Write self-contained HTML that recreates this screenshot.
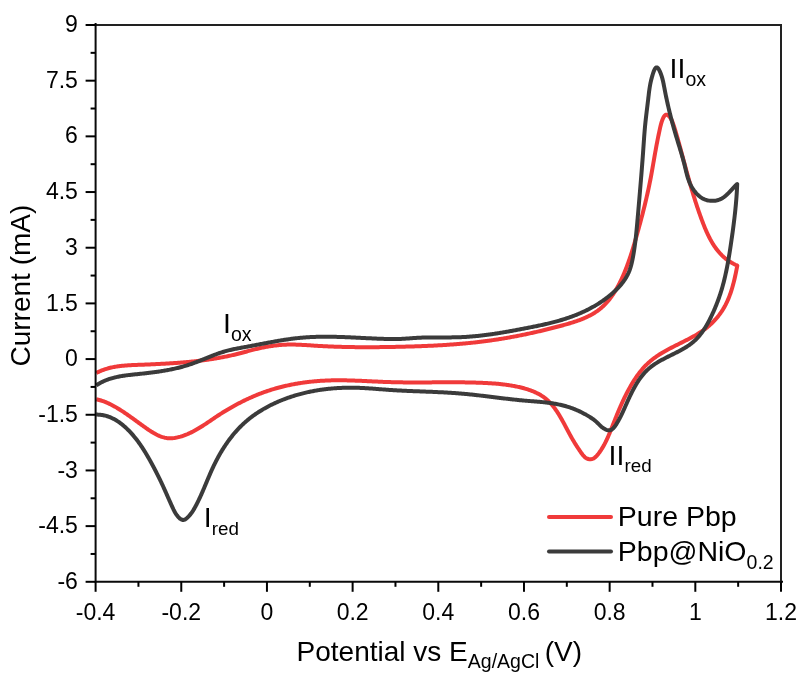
<!DOCTYPE html>
<html><head><meta charset="utf-8"><style>
html,body{margin:0;padding:0;background:#fff;}
svg{display:block;}
svg{will-change:transform;}
text{font-family:"Liberation Sans",sans-serif;fill:#000;}
</style></head><body>
<svg width="805" height="685" viewBox="0 0 805 685">
<rect x="0" y="0" width="805" height="685" fill="#fff"/>
<g fill="none" stroke-linejoin="round" stroke-linecap="butt" stroke-width="4.0">
<path d="M96.30,373.00 L97.20,372.53 L98.10,372.08 L99.01,371.65 L99.92,371.24 L100.84,370.84 L101.76,370.46 L102.69,370.10 L103.62,369.76 L104.55,369.43 L105.49,369.12 L106.44,368.83 L107.39,368.55 L108.34,368.28 L109.29,368.03 L110.25,367.79 L111.21,367.57 L112.18,367.36 L113.15,367.16 L114.12,366.97 L115.10,366.79 L116.07,366.62 L117.05,366.47 L118.04,366.32 L119.02,366.19 L120.01,366.06 L121.00,365.94 L121.99,365.84 L122.98,365.73 L123.98,365.64 L124.97,365.55 L125.97,365.47 L126.97,365.40 L127.97,365.33 L128.98,365.26 L129.98,365.21 L130.98,365.15 L131.99,365.10 L132.99,365.05 L134.00,365.01 L135.00,364.96 L136.01,364.92 L137.02,364.89 L138.02,364.85 L139.03,364.81 L140.04,364.77 L141.04,364.74 L142.05,364.70 L143.05,364.66 L144.05,364.63 L145.06,364.59 L146.06,364.55 L147.06,364.51 L148.07,364.47 L149.07,364.43 L150.07,364.39 L151.07,364.34 L152.07,364.30 L153.07,364.26 L154.07,364.21 L155.07,364.17 L156.07,364.12 L157.07,364.07 L158.07,364.02 L159.06,363.97 L160.06,363.92 L161.06,363.87 L162.06,363.82 L163.05,363.77 L164.05,363.71 L165.05,363.66 L166.04,363.60 L167.04,363.54 L168.03,363.48 L169.03,363.42 L170.02,363.36 L171.02,363.29 L172.01,363.23 L173.01,363.16 L174.00,363.10 L175.00,363.03 L175.99,362.95 L176.99,362.88 L177.98,362.81 L178.97,362.73 L179.97,362.65 L180.96,362.58 L181.95,362.49 L182.95,362.41 L183.94,362.33 L184.93,362.24 L185.92,362.15 L186.92,362.06 L187.91,361.97 L188.90,361.88 L189.90,361.78 L190.89,361.68 L191.88,361.58 L192.87,361.48 L193.87,361.37 L194.86,361.27 L195.85,361.16 L196.85,361.05 L197.84,360.93 L198.83,360.82 L199.82,360.70 L200.82,360.58 L201.81,360.45 L202.80,360.33 L203.79,360.20 L204.78,360.07 L205.78,359.94 L206.77,359.80 L207.76,359.66 L208.75,359.52 L209.74,359.37 L210.73,359.23 L211.72,359.08 L212.71,358.92 L213.69,358.77 L214.68,358.61 L215.67,358.44 L216.66,358.28 L217.64,358.11 L218.63,357.94 L219.61,357.76 L220.60,357.58 L221.58,357.40 L222.57,357.21 L223.55,357.03 L224.53,356.83 L225.51,356.64 L226.49,356.44 L227.47,356.23 L228.45,356.03 L229.42,355.82 L230.40,355.60 L231.38,355.38 L232.35,355.16 L233.32,354.94 L234.30,354.71 L235.27,354.47 L236.24,354.24 L237.21,353.99 L238.18,353.75 L239.14,353.50 L240.11,353.25 L241.08,353.00 L242.04,352.74 L243.01,352.48 L243.97,352.23 L244.93,351.97 L245.90,351.71 L246.86,351.45 L247.83,351.19 L248.79,350.93 L249.76,350.68 L250.72,350.42 L251.69,350.17 L252.66,349.92 L253.63,349.67 L254.59,349.43 L255.56,349.18 L256.54,348.95 L257.51,348.72 L258.48,348.49 L259.46,348.27 L260.43,348.05 L261.41,347.84 L262.39,347.63 L263.37,347.43 L264.35,347.24 L265.34,347.05 L266.32,346.86 L267.31,346.69 L268.29,346.52 L269.28,346.35 L270.27,346.20 L271.26,346.04 L272.25,345.90 L273.24,345.76 L274.23,345.63 L275.23,345.51 L276.22,345.39 L277.21,345.28 L278.21,345.18 L279.21,345.09 L280.20,345.00 L281.20,344.92 L282.20,344.85 L283.19,344.78 L284.19,344.73 L285.19,344.68 L286.19,344.64 L287.19,344.61 L288.19,344.59 L289.19,344.57 L290.19,344.56 L291.19,344.56 L292.19,344.56 L293.19,344.57 L294.19,344.59 L295.19,344.61 L296.19,344.64 L297.19,344.67 L298.19,344.71 L299.20,344.75 L300.20,344.79 L301.20,344.84 L302.20,344.89 L303.20,344.94 L304.20,345.00 L305.21,345.06 L306.21,345.12 L307.21,345.18 L308.21,345.24 L309.21,345.30 L310.21,345.37 L311.21,345.43 L312.22,345.50 L313.22,345.57 L314.22,345.63 L315.22,345.69 L316.22,345.76 L317.22,345.82 L318.22,345.88 L319.22,345.93 L320.22,345.99 L321.22,346.04 L322.22,346.10 L323.22,346.15 L324.21,346.20 L325.21,346.25 L326.21,346.30 L327.21,346.34 L328.21,346.39 L329.21,346.43 L330.20,346.47 L331.20,346.51 L332.20,346.55 L333.20,346.59 L334.19,346.63 L335.19,346.67 L336.19,346.70 L337.19,346.73 L338.18,346.76 L339.18,346.80 L340.18,346.82 L341.17,346.85 L342.17,346.88 L343.17,346.91 L344.16,346.93 L345.16,346.95 L346.15,346.98 L347.15,347.00 L348.15,347.02 L349.14,347.04 L350.14,347.05 L351.14,347.07 L352.13,347.09 L353.13,347.10 L354.12,347.11 L355.12,347.13 L356.12,347.14 L357.11,347.15 L358.11,347.16 L359.10,347.16 L360.10,347.17 L361.10,347.18 L362.09,347.18 L363.09,347.19 L364.08,347.19 L365.08,347.19 L366.08,347.19 L367.07,347.19 L368.07,347.19 L369.06,347.19 L370.06,347.19 L371.06,347.19 L372.05,347.18 L373.05,347.18 L374.05,347.17 L375.04,347.17 L376.04,347.16 L377.04,347.15 L378.04,347.14 L379.03,347.13 L380.03,347.12 L381.03,347.11 L382.02,347.10 L383.02,347.09 L384.02,347.07 L385.02,347.06 L386.02,347.05 L387.01,347.03 L388.01,347.01 L389.01,347.00 L390.01,346.98 L391.01,346.96 L392.01,346.94 L393.01,346.92 L394.01,346.90 L395.01,346.88 L396.01,346.86 L397.01,346.84 L398.01,346.82 L399.01,346.80 L400.01,346.77 L401.01,346.75 L402.01,346.73 L403.01,346.70 L404.01,346.68 L405.02,346.65 L406.02,346.62 L407.02,346.60 L408.02,346.57 L409.02,346.54 L410.03,346.51 L411.03,346.48 L412.03,346.45 L413.04,346.42 L414.04,346.39 L415.04,346.36 L416.05,346.32 L417.05,346.29 L418.05,346.25 L419.06,346.22 L420.06,346.18 L421.06,346.15 L422.07,346.11 L423.07,346.07 L424.07,346.03 L425.08,345.99 L426.08,345.95 L427.09,345.90 L428.09,345.86 L429.09,345.81 L430.10,345.77 L431.10,345.72 L432.10,345.67 L433.11,345.63 L434.11,345.58 L435.11,345.53 L436.12,345.47 L437.12,345.42 L438.12,345.37 L439.12,345.31 L440.13,345.25 L441.13,345.20 L442.13,345.14 L443.13,345.08 L444.13,345.02 L445.13,344.95 L446.14,344.89 L447.14,344.82 L448.14,344.76 L449.14,344.69 L450.14,344.62 L451.14,344.55 L452.14,344.48 L453.14,344.40 L454.14,344.33 L455.13,344.25 L456.13,344.18 L457.13,344.10 L458.13,344.02 L459.13,343.93 L460.12,343.85 L461.12,343.77 L462.12,343.68 L463.11,343.59 L464.11,343.50 L465.10,343.41 L466.10,343.32 L467.09,343.22 L468.08,343.13 L469.08,343.03 L470.07,342.93 L471.06,342.83 L472.05,342.72 L473.05,342.62 L474.04,342.51 L475.03,342.40 L476.02,342.29 L477.01,342.18 L477.99,342.07 L478.98,341.95 L479.97,341.84 L480.96,341.72 L481.94,341.59 L482.93,341.47 L483.91,341.35 L484.90,341.22 L485.88,341.09 L486.87,340.96 L487.85,340.83 L488.83,340.69 L489.81,340.56 L490.80,340.42 L491.78,340.28 L492.76,340.13 L493.74,339.99 L494.72,339.85 L495.70,339.70 L496.68,339.55 L497.65,339.40 L498.63,339.24 L499.61,339.09 L500.59,338.93 L501.56,338.77 L502.54,338.61 L503.52,338.45 L504.49,338.28 L505.47,338.12 L506.45,337.95 L507.42,337.78 L508.40,337.61 L509.37,337.44 L510.35,337.26 L511.32,337.08 L512.30,336.90 L513.27,336.72 L514.24,336.54 L515.22,336.36 L516.19,336.17 L517.17,335.98 L518.14,335.79 L519.11,335.60 L520.09,335.41 L521.06,335.21 L522.04,335.02 L523.01,334.82 L523.98,334.62 L524.96,334.42 L525.93,334.21 L526.90,334.01 L527.88,333.80 L528.85,333.59 L529.83,333.38 L530.80,333.17 L531.78,332.95 L532.75,332.74 L533.72,332.52 L534.70,332.30 L535.67,332.08 L536.65,331.86 L537.62,331.63 L538.60,331.41 L539.58,331.18 L540.55,330.95 L541.53,330.72 L542.51,330.49 L543.48,330.25 L544.46,330.01 L545.44,329.78 L546.42,329.54 L547.39,329.30 L548.37,329.05 L549.35,328.81 L550.33,328.56 L551.31,328.31 L552.29,328.06 L553.27,327.81 L554.25,327.56 L555.24,327.30 L556.22,327.05 L557.20,326.79 L558.18,326.53 L559.17,326.27 L560.15,326.01 L561.14,325.74 L562.12,325.48 L563.11,325.21 L564.09,324.94 L565.08,324.66 L566.06,324.39 L567.04,324.10 L568.02,323.82 L569.00,323.53 L569.98,323.24 L570.96,322.94 L571.93,322.64 L572.90,322.33 L573.87,322.02 L574.83,321.70 L575.79,321.38 L576.75,321.05 L577.70,320.71 L578.65,320.37 L579.60,320.02 L580.54,319.66 L581.47,319.29 L582.40,318.92 L583.32,318.54 L584.24,318.15 L585.15,317.75 L586.06,317.34 L586.96,316.92 L587.85,316.50 L588.74,316.06 L589.61,315.61 L590.48,315.15 L591.35,314.68 L592.20,314.21 L593.05,313.71 L593.88,313.21 L594.71,312.70 L595.53,312.17 L596.34,311.63 L597.14,311.08 L597.93,310.51 L598.71,309.93 L599.48,309.34 L600.24,308.74 L600.98,308.12 L601.72,307.48 L602.44,306.83 L603.16,306.17 L603.86,305.50 L604.56,304.81 L605.24,304.11 L605.91,303.40 L606.58,302.68 L607.23,301.95 L607.88,301.20 L608.51,300.45 L609.13,299.68 L609.75,298.91 L610.36,298.12 L610.95,297.32 L611.54,296.52 L612.12,295.71 L612.69,294.89 L613.25,294.06 L613.80,293.22 L614.35,292.37 L614.88,291.52 L615.41,290.66 L615.93,289.79 L616.44,288.92 L616.95,288.04 L617.44,287.15 L617.93,286.26 L618.42,285.37 L618.89,284.47 L619.36,283.56 L619.82,282.66 L620.27,281.74 L620.72,280.83 L621.16,279.91 L621.59,278.98 L622.02,278.06 L622.44,277.13 L622.85,276.20 L623.26,275.27 L623.67,274.34 L624.06,273.40 L624.45,272.47 L624.84,271.53 L625.22,270.60 L625.59,269.66 L625.96,268.73 L626.33,267.79 L626.69,266.85 L627.04,265.92 L627.40,264.98 L627.74,264.04 L628.08,263.10 L628.42,262.16 L628.75,261.22 L629.08,260.28 L629.41,259.34 L629.73,258.40 L630.05,257.46 L630.36,256.52 L630.67,255.57 L630.98,254.63 L631.29,253.69 L631.59,252.74 L631.89,251.80 L632.19,250.85 L632.48,249.91 L632.77,248.96 L633.06,248.01 L633.35,247.06 L633.63,246.11 L633.91,245.17 L634.19,244.22 L634.47,243.27 L634.75,242.31 L635.03,241.36 L635.30,240.41 L635.58,239.46 L635.85,238.50 L636.12,237.55 L636.39,236.59 L636.66,235.64 L636.93,234.68 L637.20,233.72 L637.47,232.77 L637.74,231.81 L638.00,230.85 L638.27,229.89 L638.53,228.93 L638.80,227.97 L639.06,227.00 L639.33,226.04 L639.59,225.08 L639.85,224.12 L640.11,223.15 L640.37,222.19 L640.63,221.22 L640.89,220.25 L641.14,219.29 L641.40,218.32 L641.65,217.35 L641.91,216.38 L642.16,215.41 L642.41,214.44 L642.66,213.47 L642.91,212.50 L643.15,211.53 L643.40,210.56 L643.65,209.59 L643.89,208.62 L644.13,207.64 L644.37,206.67 L644.61,205.70 L644.85,204.72 L645.09,203.75 L645.32,202.77 L645.55,201.79 L645.79,200.82 L646.02,199.84 L646.25,198.86 L646.47,197.89 L646.70,196.91 L646.92,195.93 L647.14,194.95 L647.36,193.97 L647.58,192.99 L647.80,192.01 L648.02,191.03 L648.23,190.05 L648.44,189.07 L648.65,188.09 L648.86,187.11 L649.06,186.13 L649.27,185.15 L649.47,184.16 L649.67,183.18 L649.87,182.20 L650.06,181.21 L650.26,180.23 L650.45,179.25 L650.64,178.26 L650.82,177.28 L651.01,176.29 L651.19,175.31 L651.37,174.32 L651.55,173.34 L651.73,172.36 L651.91,171.37 L652.09,170.39 L652.26,169.40 L652.44,168.42 L652.61,167.43 L652.78,166.45 L652.95,165.47 L653.12,164.48 L653.29,163.50 L653.46,162.52 L653.63,161.54 L653.80,160.56 L653.97,159.57 L654.14,158.59 L654.31,157.61 L654.48,156.64 L654.65,155.66 L654.83,154.68 L655.00,153.70 L655.17,152.73 L655.34,151.75 L655.52,150.78 L655.70,149.80 L655.87,148.83 L656.05,147.86 L656.23,146.89 L656.41,145.92 L656.60,144.95 L656.78,143.98 L656.97,143.01 L657.15,142.04 L657.34,141.07 L657.53,140.10 L657.73,139.13 L657.92,138.16 L658.12,137.19 L658.32,136.22 L658.52,135.24 L658.72,134.27 L658.92,133.30 L659.13,132.32 L659.34,131.34 L659.55,130.36 L659.77,129.38 L659.98,128.40 L660.20,127.41 L660.43,126.42 L660.66,125.43 L660.92,124.43 L661.20,123.42 L661.50,122.40 L661.84,121.36 L662.21,120.31 L662.63,119.25 L663.09,118.18 L663.60,117.16 L664.16,116.24 L664.76,115.49 L665.41,114.95 L666.11,114.69 L666.86,114.75 L667.63,115.09 L668.40,115.66 L669.14,116.38 L669.84,117.20 L670.46,118.07 L671.03,118.98 L671.54,119.93 L672.00,120.90 L672.42,121.89 L672.80,122.90 L673.16,123.92 L673.51,124.94 L673.84,125.95 L674.16,126.96 L674.48,127.96 L674.79,128.96 L675.10,129.95 L675.40,130.93 L675.70,131.91 L675.99,132.89 L676.28,133.86 L676.56,134.82 L676.85,135.78 L677.12,136.74 L677.40,137.69 L677.67,138.65 L677.93,139.60 L678.20,140.54 L678.46,141.49 L678.73,142.43 L678.99,143.38 L679.25,144.32 L679.51,145.27 L679.76,146.21 L680.02,147.15 L680.28,148.10 L680.54,149.05 L680.79,149.99 L681.05,150.94 L681.31,151.89 L681.56,152.83 L681.82,153.78 L682.07,154.73 L682.33,155.68 L682.59,156.63 L682.84,157.58 L683.10,158.53 L683.36,159.48 L683.61,160.44 L683.87,161.39 L684.13,162.34 L684.39,163.29 L684.64,164.25 L684.90,165.20 L685.16,166.15 L685.42,167.11 L685.68,168.06 L685.94,169.02 L686.21,169.97 L686.47,170.93 L686.73,171.88 L686.99,172.84 L687.26,173.80 L687.52,174.75 L687.79,175.71 L688.06,176.67 L688.33,177.62 L688.59,178.58 L688.86,179.54 L689.14,180.49 L689.41,181.45 L689.68,182.41 L689.96,183.37 L690.23,184.32 L690.51,185.28 L690.79,186.24 L691.07,187.19 L691.35,188.15 L691.63,189.11 L691.92,190.07 L692.20,191.02 L692.49,191.98 L692.78,192.94 L693.07,193.90 L693.36,194.85 L693.66,195.81 L693.95,196.77 L694.25,197.72 L694.55,198.68 L694.85,199.64 L695.16,200.59 L695.46,201.55 L695.77,202.50 L696.08,203.46 L696.39,204.41 L696.71,205.37 L697.02,206.32 L697.34,207.28 L697.66,208.23 L697.98,209.18 L698.31,210.14 L698.64,211.09 L698.97,212.04 L699.30,212.99 L699.64,213.94 L699.97,214.89 L700.31,215.84 L700.66,216.79 L701.00,217.74 L701.35,218.69 L701.70,219.64 L702.06,220.59 L702.42,221.54 L702.78,222.48 L703.14,223.43 L703.51,224.37 L703.88,225.31 L704.26,226.25 L704.64,227.19 L705.02,228.13 L705.41,229.06 L705.81,229.99 L706.21,230.91 L706.62,231.83 L707.03,232.75 L707.45,233.66 L707.88,234.57 L708.31,235.47 L708.75,236.37 L709.20,237.26 L709.66,238.15 L710.12,239.03 L710.60,239.90 L711.08,240.77 L711.57,241.63 L712.07,242.48 L712.57,243.33 L713.09,244.17 L713.62,245.00 L714.16,245.82 L714.71,246.63 L715.27,247.43 L715.84,248.23 L716.42,249.01 L717.01,249.79 L717.61,250.55 L718.23,251.31 L718.86,252.05 L719.50,252.79 L720.15,253.51 L720.82,254.22 L721.50,254.92 L722.19,255.61 L722.90,256.28 L723.62,256.95 L724.36,257.59 L725.11,258.23 L725.88,258.85 L726.66,259.46 L727.45,260.06 L728.26,260.64 L729.09,261.21 L729.94,261.76 L730.80,262.29 L731.67,262.81 L732.57,263.32 L733.48,263.81 L734.41,264.28 L735.35,264.74 L736.32,265.18 L737.30,265.60 L737.12,266.56 L736.93,267.52 L736.75,268.48 L736.56,269.44 L736.36,270.41 L736.17,271.38 L735.97,272.36 L735.77,273.33 L735.56,274.31 L735.35,275.28 L735.14,276.26 L734.92,277.24 L734.70,278.22 L734.47,279.20 L734.24,280.18 L734.00,281.16 L733.76,282.14 L733.51,283.12 L733.25,284.09 L732.99,285.07 L732.72,286.04 L732.45,287.02 L732.16,287.99 L731.87,288.96 L731.58,289.92 L731.27,290.88 L730.96,291.84 L730.63,292.80 L730.30,293.75 L729.96,294.70 L729.61,295.64 L729.26,296.58 L728.89,297.52 L728.51,298.45 L728.12,299.37 L727.73,300.29 L727.32,301.21 L726.90,302.11 L726.47,303.02 L726.03,303.91 L725.57,304.80 L725.11,305.68 L724.63,306.55 L724.14,307.42 L723.64,308.28 L723.13,309.13 L722.60,309.97 L722.06,310.81 L721.52,311.64 L720.96,312.45 L720.39,313.27 L719.80,314.07 L719.21,314.86 L718.61,315.65 L717.99,316.42 L717.37,317.19 L716.73,317.95 L716.08,318.70 L715.43,319.44 L714.76,320.18 L714.08,320.90 L713.40,321.61 L712.70,322.32 L712.00,323.01 L711.28,323.70 L710.56,324.37 L709.83,325.04 L709.09,325.70 L708.34,326.34 L707.58,326.98 L706.81,327.60 L706.03,328.22 L705.25,328.82 L704.46,329.42 L703.66,330.00 L702.85,330.58 L702.04,331.14 L701.22,331.70 L700.39,332.24 L699.55,332.78 L698.71,333.31 L697.87,333.84 L697.01,334.35 L696.16,334.86 L695.29,335.36 L694.43,335.86 L693.56,336.35 L692.68,336.84 L691.80,337.32 L690.92,337.80 L690.03,338.27 L689.14,338.74 L688.25,339.20 L687.35,339.67 L686.46,340.13 L685.56,340.58 L684.66,341.04 L683.76,341.49 L682.85,341.95 L681.95,342.40 L681.04,342.85 L680.14,343.30 L679.23,343.75 L678.33,344.20 L677.42,344.66 L676.52,345.11 L675.62,345.56 L674.72,346.02 L673.81,346.47 L672.92,346.93 L672.02,347.39 L671.12,347.86 L670.23,348.32 L669.34,348.80 L668.46,349.27 L667.57,349.75 L666.69,350.23 L665.82,350.72 L664.94,351.21 L664.08,351.70 L663.21,352.21 L662.35,352.71 L661.50,353.23 L660.65,353.75 L659.81,354.28 L658.97,354.81 L658.14,355.35 L657.32,355.90 L656.50,356.46 L655.69,357.03 L654.88,357.60 L654.09,358.18 L653.30,358.78 L652.51,359.38 L651.74,359.99 L650.98,360.61 L650.22,361.24 L649.47,361.89 L648.74,362.54 L648.01,363.21 L647.29,363.88 L646.58,364.57 L645.88,365.27 L645.19,365.98 L644.51,366.70 L643.83,367.43 L643.17,368.17 L642.51,368.92 L641.87,369.68 L641.23,370.44 L640.60,371.22 L639.97,372.00 L639.36,372.79 L638.75,373.59 L638.16,374.39 L637.56,375.20 L636.98,376.02 L636.41,376.85 L635.84,377.68 L635.28,378.51 L634.72,379.35 L634.17,380.20 L633.63,381.05 L633.10,381.90 L632.57,382.76 L632.05,383.62 L631.53,384.49 L631.03,385.35 L630.52,386.22 L630.03,387.10 L629.54,387.97 L629.05,388.85 L628.57,389.73 L628.09,390.61 L627.63,391.49 L627.16,392.38 L626.70,393.26 L626.25,394.15 L625.80,395.04 L625.35,395.93 L624.91,396.83 L624.47,397.72 L624.04,398.62 L623.61,399.52 L623.19,400.42 L622.77,401.32 L622.35,402.23 L621.94,403.13 L621.53,404.04 L621.12,404.95 L620.72,405.86 L620.32,406.77 L619.92,407.69 L619.53,408.60 L619.14,409.52 L618.75,410.43 L618.36,411.35 L617.98,412.27 L617.59,413.20 L617.21,414.12 L616.83,415.04 L616.46,415.97 L616.08,416.90 L615.71,417.82 L615.34,418.75 L614.97,419.68 L614.60,420.62 L614.23,421.55 L613.86,422.48 L613.49,423.42 L613.12,424.35 L612.76,425.29 L612.39,426.22 L612.02,427.16 L611.65,428.09 L611.28,429.03 L610.91,429.96 L610.53,430.89 L610.15,431.82 L609.77,432.75 L609.39,433.67 L609.00,434.60 L608.60,435.51 L608.20,436.43 L607.80,437.34 L607.39,438.25 L606.98,439.15 L606.55,440.05 L606.13,440.94 L605.69,441.83 L605.25,442.71 L604.79,443.58 L604.34,444.45 L603.87,445.31 L603.39,446.17 L602.90,447.02 L602.40,447.86 L601.90,448.69 L601.37,449.51 L600.84,450.34 L600.28,451.16 L599.70,451.99 L599.10,452.81 L598.47,453.65 L597.81,454.49 L597.12,455.33 L596.40,456.14 L595.64,456.89 L594.83,457.58 L593.99,458.16 L593.10,458.62 L592.17,458.95 L591.22,459.16 L590.26,459.24 L589.30,459.19 L588.36,459.03 L587.44,458.74 L586.56,458.34 L585.73,457.82 L584.94,457.20 L584.19,456.50 L583.48,455.73 L582.80,454.92 L582.14,454.06 L581.50,453.19 L580.88,452.31 L580.27,451.44 L579.68,450.57 L579.09,449.71 L578.52,448.86 L577.95,448.01 L577.40,447.17 L576.85,446.33 L576.32,445.49 L575.79,444.65 L575.27,443.82 L574.75,442.99 L574.25,442.16 L573.75,441.33 L573.25,440.50 L572.76,439.66 L572.28,438.83 L571.79,438.00 L571.32,437.16 L570.84,436.31 L570.37,435.47 L569.90,434.62 L569.43,433.76 L568.96,432.90 L568.50,432.03 L568.03,431.16 L567.56,430.28 L567.09,429.40 L566.63,428.51 L566.16,427.62 L565.69,426.73 L565.21,425.83 L564.74,424.94 L564.26,424.04 L563.78,423.15 L563.29,422.25 L562.80,421.35 L562.31,420.46 L561.81,419.57 L561.31,418.68 L560.80,417.79 L560.29,416.91 L559.77,416.03 L559.24,415.16 L558.71,414.29 L558.17,413.43 L557.63,412.57 L557.07,411.73 L556.51,410.89 L555.94,410.06 L555.36,409.24 L554.77,408.42 L554.17,407.62 L553.56,406.83 L552.94,406.05 L552.31,405.28 L551.67,404.53 L551.02,403.78 L550.36,403.06 L549.68,402.34 L549.00,401.64 L548.30,400.96 L547.58,400.29 L546.85,399.64 L546.11,399.01 L545.36,398.39 L544.59,397.79 L543.80,397.21 L543.01,396.65 L542.20,396.10 L541.37,395.58 L540.54,395.07 L539.69,394.57 L538.83,394.09 L537.96,393.63 L537.08,393.18 L536.19,392.75 L535.29,392.33 L534.38,391.92 L533.47,391.53 L532.54,391.15 L531.61,390.79 L530.67,390.44 L529.73,390.10 L528.77,389.77 L527.82,389.45 L526.85,389.15 L525.89,388.85 L524.92,388.57 L523.94,388.30 L522.96,388.03 L521.98,387.78 L521.00,387.53 L520.02,387.30 L519.03,387.07 L518.05,386.85 L517.06,386.64 L516.07,386.43 L515.08,386.24 L514.10,386.05 L513.11,385.86 L512.12,385.69 L511.13,385.52 L510.14,385.36 L509.15,385.20 L508.16,385.05 L507.17,384.91 L506.18,384.77 L505.18,384.64 L504.19,384.51 L503.20,384.39 L502.21,384.28 L501.22,384.17 L500.22,384.06 L499.23,383.96 L498.24,383.86 L497.24,383.77 L496.25,383.69 L495.25,383.60 L494.26,383.53 L493.26,383.45 L492.27,383.38 L491.27,383.31 L490.28,383.25 L489.28,383.19 L488.29,383.13 L487.29,383.08 L486.30,383.02 L485.30,382.97 L484.30,382.93 L483.31,382.88 L482.31,382.84 L481.32,382.80 L480.32,382.76 L479.32,382.73 L478.33,382.69 L477.33,382.66 L476.33,382.63 L475.33,382.60 L474.34,382.57 L473.34,382.54 L472.34,382.52 L471.35,382.50 L470.35,382.47 L469.35,382.45 L468.35,382.43 L467.36,382.42 L466.36,382.40 L465.36,382.39 L464.36,382.37 L463.37,382.36 L462.37,382.35 L461.37,382.34 L460.37,382.33 L459.37,382.32 L458.38,382.32 L457.38,382.31 L456.38,382.31 L455.38,382.30 L454.38,382.30 L453.38,382.30 L452.38,382.30 L451.39,382.29 L450.39,382.29 L449.39,382.30 L448.39,382.30 L447.39,382.30 L446.39,382.30 L445.39,382.30 L444.39,382.31 L443.40,382.31 L442.40,382.32 L441.40,382.32 L440.40,382.33 L439.40,382.33 L438.40,382.34 L437.40,382.34 L436.40,382.35 L435.40,382.35 L434.40,382.36 L433.40,382.37 L432.40,382.37 L431.40,382.38 L430.40,382.39 L429.40,382.39 L428.40,382.40 L427.41,382.40 L426.41,382.41 L425.41,382.41 L424.41,382.42 L423.41,382.42 L422.41,382.43 L421.41,382.43 L420.41,382.43 L419.41,382.44 L418.41,382.44 L417.41,382.44 L416.41,382.44 L415.41,382.44 L414.41,382.44 L413.41,382.44 L412.41,382.44 L411.41,382.44 L410.41,382.43 L409.41,382.43 L408.41,382.42 L407.41,382.42 L406.41,382.41 L405.41,382.40 L404.41,382.39 L403.41,382.38 L402.41,382.37 L401.41,382.36 L400.41,382.34 L399.41,382.33 L398.41,382.31 L397.41,382.29 L396.41,382.27 L395.41,382.25 L394.41,382.23 L393.41,382.20 L392.41,382.18 L391.41,382.15 L390.41,382.12 L389.40,382.09 L388.40,382.06 L387.40,382.03 L386.40,381.99 L385.40,381.96 L384.40,381.92 L383.40,381.88 L382.40,381.84 L381.40,381.80 L380.40,381.75 L379.40,381.71 L378.40,381.66 L377.40,381.62 L376.41,381.57 L375.41,381.53 L374.41,381.48 L373.41,381.43 L372.41,381.39 L371.41,381.34 L370.41,381.29 L369.41,381.24 L368.41,381.20 L367.41,381.15 L366.41,381.10 L365.41,381.06 L364.41,381.01 L363.41,380.96 L362.41,380.92 L361.41,380.87 L360.41,380.83 L359.41,380.79 L358.41,380.75 L357.41,380.71 L356.41,380.67 L355.41,380.63 L354.41,380.60 L353.42,380.56 L352.42,380.53 L351.42,380.50 L350.42,380.47 L349.42,380.44 L348.42,380.41 L347.42,380.39 L346.42,380.37 L345.42,380.35 L344.42,380.33 L343.43,380.32 L342.43,380.31 L341.43,380.30 L340.43,380.29 L339.43,380.29 L338.43,380.29 L337.44,380.29 L336.44,380.29 L335.44,380.30 L334.44,380.31 L333.44,380.33 L332.44,380.35 L331.45,380.37 L330.45,380.40 L329.45,380.42 L328.45,380.46 L327.45,380.49 L326.46,380.54 L325.46,380.58 L324.46,380.63 L323.47,380.68 L322.47,380.74 L321.47,380.80 L320.48,380.86 L319.48,380.93 L318.48,381.00 L317.49,381.08 L316.49,381.16 L315.50,381.25 L314.50,381.33 L313.51,381.43 L312.52,381.52 L311.52,381.63 L310.53,381.73 L309.54,381.84 L308.55,381.95 L307.56,382.07 L306.57,382.20 L305.58,382.32 L304.59,382.45 L303.60,382.59 L302.61,382.73 L301.63,382.87 L300.64,383.02 L299.65,383.18 L298.67,383.33 L297.69,383.50 L296.70,383.66 L295.72,383.84 L294.74,384.01 L293.76,384.19 L292.78,384.38 L291.80,384.57 L290.82,384.76 L289.85,384.96 L288.87,385.17 L287.90,385.38 L286.93,385.59 L285.95,385.81 L284.98,386.03 L284.01,386.26 L283.04,386.50 L282.08,386.74 L281.11,386.98 L280.14,387.23 L279.18,387.48 L278.22,387.74 L277.26,388.00 L276.30,388.27 L275.34,388.54 L274.38,388.82 L273.42,389.11 L272.47,389.40 L271.52,389.69 L270.56,389.99 L269.61,390.29 L268.67,390.60 L267.72,390.92 L266.77,391.24 L265.83,391.57 L264.89,391.90 L263.95,392.23 L263.01,392.57 L262.07,392.92 L261.13,393.27 L260.20,393.63 L259.27,393.99 L258.34,394.36 L257.41,394.73 L256.48,395.10 L255.56,395.49 L254.63,395.87 L253.71,396.26 L252.79,396.66 L251.87,397.06 L250.96,397.46 L250.04,397.87 L249.13,398.29 L248.22,398.70 L247.31,399.13 L246.40,399.55 L245.50,399.98 L244.59,400.42 L243.69,400.86 L242.80,401.30 L241.90,401.75 L241.00,402.20 L240.11,402.66 L239.22,403.12 L238.33,403.58 L237.45,404.05 L236.56,404.52 L235.68,405.00 L234.80,405.48 L233.92,405.96 L233.05,406.45 L232.17,406.94 L231.30,407.43 L230.43,407.93 L229.57,408.43 L228.70,408.94 L227.84,409.44 L226.98,409.96 L226.12,410.47 L225.27,410.99 L224.41,411.51 L223.56,412.03 L222.72,412.56 L221.87,413.09 L221.03,413.63 L220.19,414.16 L219.35,414.70 L218.51,415.24 L217.68,415.79 L216.85,416.34 L216.02,416.89 L215.19,417.44 L214.37,418.00 L213.55,418.55 L212.73,419.11 L211.91,419.67 L211.08,420.22 L210.27,420.78 L209.45,421.34 L208.63,421.89 L207.80,422.45 L206.98,423.00 L206.16,423.55 L205.34,424.10 L204.51,424.64 L203.68,425.18 L202.85,425.72 L202.02,426.25 L201.18,426.78 L200.35,427.30 L199.50,427.82 L198.66,428.33 L197.81,428.83 L196.95,429.33 L196.09,429.82 L195.23,430.30 L194.36,430.77 L193.48,431.24 L192.60,431.70 L191.72,432.14 L190.82,432.58 L189.92,433.01 L189.01,433.43 L188.10,433.83 L187.18,434.23 L186.25,434.61 L185.31,434.98 L184.36,435.34 L183.41,435.69 L182.44,436.02 L181.47,436.33 L180.49,436.64 L179.50,436.92 L178.50,437.18 L177.51,437.42 L176.51,437.64 L175.50,437.83 L174.50,437.99 L173.50,438.12 L172.50,438.22 L171.50,438.28 L170.51,438.31 L169.52,438.30 L168.54,438.25 L167.57,438.16 L166.60,438.03 L165.64,437.87 L164.68,437.67 L163.74,437.43 L162.80,437.17 L161.86,436.87 L160.93,436.55 L160.01,436.20 L159.10,435.82 L158.19,435.41 L157.28,434.99 L156.38,434.54 L155.49,434.07 L154.61,433.59 L153.72,433.09 L152.85,432.57 L151.98,432.04 L151.11,431.50 L150.26,430.94 L149.40,430.38 L148.55,429.81 L147.71,429.23 L146.87,428.65 L146.04,428.06 L145.21,427.48 L144.38,426.89 L143.56,426.30 L142.75,425.72 L141.93,425.13 L141.12,424.54 L140.32,423.96 L139.51,423.37 L138.71,422.79 L137.91,422.21 L137.12,421.63 L136.32,421.04 L135.52,420.46 L134.73,419.89 L133.93,419.31 L133.13,418.73 L132.34,418.16 L131.54,417.58 L130.74,417.01 L129.94,416.44 L129.13,415.87 L128.33,415.31 L127.52,414.74 L126.71,414.18 L125.89,413.62 L125.07,413.06 L124.24,412.50 L123.42,411.95 L122.58,411.40 L121.74,410.85 L120.90,410.31 L120.05,409.76 L119.19,409.23 L118.33,408.70 L117.46,408.17 L116.59,407.65 L115.72,407.14 L114.84,406.64 L113.95,406.15 L113.06,405.66 L112.17,405.19 L111.27,404.72 L110.36,404.27 L109.46,403.83 L108.54,403.40 L107.63,402.99 L106.70,402.59 L105.78,402.20 L104.85,401.83 L103.91,401.48 L102.98,401.14 L102.03,400.82 L101.09,400.52 L100.14,400.23 L99.18,399.97 L98.23,399.73 L97.27,399.50 L96.30,399.30" stroke="#f03a3a"/>
<path d="M96.30,385.40 L97.14,384.83 L97.99,384.29 L98.85,383.76 L99.71,383.26 L100.58,382.78 L101.46,382.31 L102.35,381.87 L103.24,381.44 L104.14,381.03 L105.04,380.64 L105.95,380.26 L106.87,379.90 L107.79,379.56 L108.72,379.23 L109.65,378.92 L110.59,378.62 L111.53,378.34 L112.47,378.07 L113.43,377.81 L114.38,377.56 L115.34,377.33 L116.31,377.10 L117.27,376.89 L118.25,376.69 L119.22,376.50 L120.20,376.31 L121.18,376.14 L122.16,375.97 L123.15,375.81 L124.14,375.66 L125.13,375.52 L126.13,375.38 L127.12,375.25 L128.12,375.12 L129.12,375.00 L130.12,374.89 L131.12,374.77 L132.12,374.66 L133.13,374.55 L134.13,374.45 L135.13,374.35 L136.14,374.24 L137.14,374.14 L138.15,374.04 L139.15,373.94 L140.16,373.84 L141.16,373.74 L142.16,373.63 L143.16,373.52 L144.17,373.42 L145.17,373.31 L146.17,373.20 L147.16,373.08 L148.16,372.97 L149.16,372.85 L150.16,372.73 L151.15,372.61 L152.15,372.48 L153.14,372.35 L154.13,372.22 L155.12,372.09 L156.11,371.95 L157.10,371.81 L158.09,371.67 L159.08,371.52 L160.07,371.37 L161.05,371.22 L162.04,371.06 L163.02,370.90 L164.00,370.73 L164.98,370.57 L165.96,370.39 L166.94,370.21 L167.92,370.03 L168.89,369.85 L169.87,369.66 L170.84,369.46 L171.81,369.26 L172.78,369.05 L173.75,368.84 L174.72,368.63 L175.69,368.41 L176.65,368.18 L177.62,367.95 L178.58,367.71 L179.54,367.47 L180.50,367.22 L181.46,366.96 L182.41,366.70 L183.37,366.44 L184.32,366.16 L185.28,365.88 L186.23,365.60 L187.17,365.30 L188.12,365.01 L189.07,364.70 L190.01,364.39 L190.95,364.07 L191.89,363.74 L192.83,363.40 L193.77,363.06 L194.71,362.72 L195.64,362.37 L196.58,362.01 L197.51,361.65 L198.44,361.29 L199.37,360.92 L200.30,360.55 L201.23,360.18 L202.16,359.80 L203.09,359.43 L204.02,359.05 L204.95,358.67 L205.88,358.29 L206.81,357.92 L207.74,357.54 L208.67,357.17 L209.60,356.79 L210.53,356.42 L211.47,356.05 L212.40,355.69 L213.33,355.33 L214.27,354.97 L215.20,354.61 L216.14,354.27 L217.08,353.92 L218.02,353.59 L218.96,353.26 L219.91,352.93 L220.85,352.62 L221.80,352.31 L222.75,352.01 L223.70,351.72 L224.66,351.44 L225.61,351.17 L226.57,350.90 L227.53,350.65 L228.50,350.40 L229.46,350.17 L230.43,349.94 L231.40,349.71 L232.37,349.50 L233.34,349.28 L234.32,349.08 L235.29,348.88 L236.27,348.68 L237.25,348.49 L238.23,348.30 L239.21,348.11 L240.19,347.93 L241.17,347.75 L242.15,347.57 L243.13,347.39 L244.12,347.21 L245.10,347.03 L246.08,346.85 L247.07,346.68 L248.05,346.49 L249.04,346.31 L250.02,346.13 L251.00,345.94 L251.99,345.76 L252.97,345.57 L253.95,345.39 L254.94,345.20 L255.92,345.01 L256.91,344.82 L257.89,344.63 L258.87,344.45 L259.86,344.26 L260.84,344.07 L261.83,343.88 L262.81,343.69 L263.80,343.50 L264.78,343.32 L265.76,343.13 L266.75,342.94 L267.73,342.76 L268.72,342.57 L269.70,342.39 L270.69,342.21 L271.67,342.03 L272.66,341.85 L273.64,341.67 L274.63,341.49 L275.62,341.32 L276.60,341.15 L277.59,340.98 L278.58,340.81 L279.56,340.64 L280.55,340.48 L281.54,340.31 L282.52,340.15 L283.51,340.00 L284.50,339.84 L285.49,339.69 L286.47,339.54 L287.46,339.40 L288.45,339.26 L289.44,339.12 L290.43,338.98 L291.42,338.85 L292.41,338.72 L293.40,338.59 L294.39,338.47 L295.38,338.36 L296.37,338.24 L297.36,338.13 L298.35,338.03 L299.34,337.93 L300.33,337.83 L301.33,337.74 L302.32,337.65 L303.31,337.57 L304.30,337.49 L305.30,337.42 L306.29,337.35 L307.28,337.28 L308.28,337.22 L309.27,337.16 L310.27,337.11 L311.26,337.06 L312.26,337.01 L313.25,336.97 L314.25,336.93 L315.25,336.90 L316.24,336.87 L317.24,336.84 L318.24,336.82 L319.23,336.80 L320.23,336.78 L321.23,336.76 L322.23,336.75 L323.22,336.74 L324.22,336.74 L325.22,336.73 L326.22,336.73 L327.22,336.74 L328.21,336.74 L329.21,336.75 L330.21,336.76 L331.21,336.77 L332.21,336.79 L333.21,336.81 L334.21,336.82 L335.21,336.85 L336.21,336.87 L337.21,336.89 L338.21,336.92 L339.21,336.95 L340.21,336.98 L341.21,337.01 L342.21,337.05 L343.21,337.08 L344.21,337.12 L345.21,337.16 L346.21,337.20 L347.21,337.24 L348.21,337.28 L349.21,337.32 L350.21,337.37 L351.21,337.41 L352.21,337.46 L353.21,337.50 L354.21,337.55 L355.21,337.60 L356.21,337.64 L357.21,337.69 L358.21,337.74 L359.21,337.79 L360.21,337.84 L361.21,337.89 L362.21,337.94 L363.21,337.99 L364.21,338.04 L365.21,338.08 L366.21,338.13 L367.21,338.18 L368.21,338.23 L369.21,338.28 L370.21,338.32 L371.21,338.37 L372.21,338.42 L373.21,338.46 L374.21,338.51 L375.21,338.55 L376.20,338.59 L377.20,338.63 L378.20,338.67 L379.20,338.71 L380.20,338.75 L381.19,338.78 L382.19,338.82 L383.19,338.85 L384.19,338.88 L385.18,338.91 L386.18,338.94 L387.18,338.96 L388.17,338.99 L389.17,339.00 L390.16,339.02 L391.16,339.03 L392.16,339.04 L393.15,339.04 L394.15,339.04 L395.14,339.03 L396.14,339.02 L397.14,339.01 L398.13,338.98 L399.13,338.96 L400.12,338.92 L401.12,338.88 L402.11,338.84 L403.11,338.79 L404.11,338.73 L405.10,338.67 L406.10,338.61 L407.09,338.54 L408.09,338.47 L409.09,338.40 L410.08,338.32 L411.08,338.25 L412.08,338.18 L413.07,338.11 L414.07,338.04 L415.07,337.97 L416.07,337.90 L417.07,337.84 L418.07,337.78 L419.06,337.73 L420.06,337.68 L421.06,337.64 L422.06,337.60 L423.06,337.56 L424.06,337.53 L425.06,337.50 L426.07,337.48 L427.07,337.46 L428.07,337.44 L429.07,337.43 L430.07,337.41 L431.07,337.41 L432.07,337.40 L433.08,337.39 L434.08,337.39 L435.08,337.39 L436.08,337.39 L437.08,337.39 L438.09,337.39 L439.09,337.39 L440.09,337.39 L441.09,337.39 L442.09,337.39 L443.10,337.40 L444.10,337.40 L445.10,337.40 L446.10,337.40 L447.10,337.40 L448.10,337.40 L449.10,337.39 L450.10,337.39 L451.11,337.38 L452.11,337.37 L453.10,337.36 L454.10,337.34 L455.10,337.32 L456.10,337.30 L457.10,337.28 L458.10,337.25 L459.10,337.22 L460.09,337.18 L461.09,337.15 L462.09,337.10 L463.08,337.05 L464.08,337.00 L465.07,336.95 L466.07,336.89 L467.06,336.82 L468.06,336.76 L469.05,336.68 L470.04,336.61 L471.04,336.53 L472.03,336.45 L473.02,336.36 L474.01,336.28 L475.00,336.18 L476.00,336.09 L476.99,335.99 L477.98,335.89 L478.97,335.78 L479.96,335.67 L480.95,335.56 L481.94,335.45 L482.93,335.33 L483.91,335.21 L484.90,335.09 L485.89,334.96 L486.88,334.83 L487.87,334.70 L488.86,334.57 L489.84,334.43 L490.83,334.29 L491.82,334.15 L492.80,334.01 L493.79,333.86 L494.78,333.72 L495.76,333.57 L496.75,333.41 L497.73,333.26 L498.72,333.10 L499.70,332.94 L500.69,332.78 L501.68,332.62 L502.66,332.46 L503.65,332.29 L504.63,332.12 L505.61,331.95 L506.60,331.78 L507.58,331.61 L508.57,331.44 L509.55,331.26 L510.54,331.09 L511.52,330.91 L512.50,330.73 L513.49,330.55 L514.47,330.37 L515.46,330.19 L516.44,330.00 L517.42,329.82 L518.41,329.63 L519.39,329.45 L520.37,329.26 L521.36,329.07 L522.34,328.88 L523.33,328.70 L524.31,328.51 L525.29,328.32 L526.28,328.13 L527.26,327.93 L528.24,327.74 L529.23,327.55 L530.21,327.36 L531.20,327.16 L532.18,326.97 L533.16,326.77 L534.14,326.58 L535.13,326.38 L536.11,326.18 L537.09,325.97 L538.07,325.77 L539.05,325.56 L540.03,325.35 L541.01,325.14 L541.99,324.93 L542.97,324.72 L543.95,324.50 L544.92,324.28 L545.90,324.05 L546.87,323.83 L547.85,323.60 L548.82,323.37 L549.79,323.13 L550.76,322.89 L551.73,322.65 L552.70,322.40 L553.67,322.15 L554.64,321.90 L555.60,321.64 L556.57,321.38 L557.53,321.12 L558.49,320.84 L559.45,320.57 L560.41,320.29 L561.37,320.01 L562.33,319.72 L563.28,319.42 L564.23,319.12 L565.18,318.82 L566.13,318.51 L567.08,318.20 L568.03,317.88 L568.97,317.56 L569.91,317.23 L570.85,316.89 L571.79,316.55 L572.72,316.21 L573.66,315.86 L574.59,315.50 L575.51,315.14 L576.44,314.77 L577.36,314.40 L578.28,314.02 L579.20,313.63 L580.12,313.24 L581.03,312.84 L581.94,312.44 L582.84,312.03 L583.75,311.62 L584.65,311.20 L585.54,310.77 L586.44,310.34 L587.33,309.90 L588.22,309.45 L589.10,309.00 L589.98,308.54 L590.86,308.07 L591.73,307.60 L592.60,307.12 L593.47,306.63 L594.33,306.14 L595.19,305.64 L596.05,305.13 L596.90,304.62 L597.75,304.10 L598.59,303.57 L599.43,303.03 L600.26,302.49 L601.10,301.94 L601.92,301.38 L602.74,300.82 L603.56,300.25 L604.38,299.67 L605.18,299.08 L605.99,298.48 L606.79,297.88 L607.58,297.27 L608.37,296.65 L609.16,296.02 L609.94,295.39 L610.71,294.75 L611.48,294.10 L612.25,293.44 L613.01,292.77 L613.76,292.10 L614.50,291.41 L615.24,290.72 L615.97,290.02 L616.69,289.31 L617.40,288.59 L618.10,287.87 L618.79,287.13 L619.47,286.39 L620.13,285.64 L620.79,284.87 L621.43,284.10 L622.06,283.32 L622.67,282.54 L623.27,281.74 L623.85,280.93 L624.42,280.12 L624.98,279.29 L625.51,278.46 L626.03,277.61 L626.53,276.76 L627.01,275.90 L627.48,275.02 L627.92,274.14 L628.35,273.25 L628.75,272.35 L629.13,271.44 L629.49,270.51 L629.84,269.58 L630.16,268.65 L630.47,267.70 L630.76,266.75 L631.03,265.79 L631.30,264.83 L631.54,263.86 L631.78,262.88 L632.00,261.91 L632.22,260.92 L632.43,259.94 L632.62,258.95 L632.81,257.97 L633.00,256.98 L633.18,255.99 L633.35,255.00 L633.52,254.01 L633.69,253.02 L633.85,252.03 L634.01,251.04 L634.16,250.05 L634.31,249.06 L634.45,248.07 L634.60,247.07 L634.74,246.08 L634.87,245.09 L635.00,244.10 L635.13,243.11 L635.26,242.12 L635.38,241.13 L635.50,240.14 L635.62,239.14 L635.73,238.15 L635.85,237.16 L635.96,236.17 L636.06,235.18 L636.17,234.18 L636.27,233.19 L636.37,232.20 L636.47,231.21 L636.57,230.21 L636.67,229.22 L636.76,228.23 L636.86,227.23 L636.95,226.24 L637.04,225.25 L637.13,224.25 L637.22,223.26 L637.31,222.27 L637.39,221.27 L637.48,220.28 L637.57,219.29 L637.65,218.29 L637.74,217.30 L637.83,216.30 L637.91,215.31 L638.00,214.31 L638.08,213.32 L638.17,212.32 L638.26,211.33 L638.34,210.33 L638.43,209.34 L638.51,208.34 L638.60,207.35 L638.69,206.35 L638.77,205.36 L638.86,204.36 L638.94,203.37 L639.03,202.37 L639.12,201.37 L639.20,200.38 L639.29,199.38 L639.37,198.39 L639.46,197.39 L639.54,196.39 L639.63,195.40 L639.71,194.40 L639.80,193.41 L639.88,192.41 L639.97,191.41 L640.05,190.42 L640.14,189.42 L640.22,188.42 L640.31,187.43 L640.39,186.43 L640.47,185.43 L640.56,184.44 L640.64,183.44 L640.72,182.44 L640.81,181.45 L640.89,180.45 L640.97,179.45 L641.05,178.46 L641.13,177.46 L641.22,176.47 L641.30,175.47 L641.38,174.47 L641.46,173.48 L641.54,172.48 L641.62,171.48 L641.70,170.49 L641.78,169.49 L641.86,168.49 L641.93,167.50 L642.01,166.50 L642.09,165.51 L642.17,164.51 L642.24,163.51 L642.32,162.52 L642.40,161.52 L642.47,160.53 L642.55,159.53 L642.62,158.53 L642.70,157.54 L642.77,156.54 L642.84,155.55 L642.92,154.55 L642.99,153.56 L643.06,152.56 L643.13,151.57 L643.20,150.57 L643.27,149.58 L643.34,148.58 L643.41,147.59 L643.48,146.59 L643.55,145.60 L643.62,144.60 L643.69,143.61 L643.76,142.62 L643.83,141.62 L643.90,140.63 L643.97,139.63 L644.04,138.64 L644.11,137.64 L644.19,136.65 L644.26,135.65 L644.34,134.65 L644.42,133.66 L644.50,132.66 L644.58,131.66 L644.66,130.67 L644.74,129.67 L644.83,128.67 L644.92,127.67 L645.01,126.68 L645.10,125.68 L645.20,124.68 L645.30,123.68 L645.40,122.68 L645.50,121.68 L645.61,120.68 L645.72,119.67 L645.83,118.67 L645.94,117.67 L646.06,116.67 L646.18,115.67 L646.30,114.67 L646.42,113.67 L646.54,112.68 L646.66,111.68 L646.78,110.69 L646.91,109.69 L647.03,108.70 L647.15,107.72 L647.28,106.73 L647.40,105.75 L647.52,104.77 L647.64,103.79 L647.76,102.82 L647.88,101.85 L647.99,100.89 L648.11,99.92 L648.22,98.97 L648.33,98.01 L648.44,97.06 L648.55,96.12 L648.66,95.17 L648.77,94.22 L648.88,93.27 L649.00,92.32 L649.12,91.37 L649.25,90.41 L649.39,89.44 L649.53,88.47 L649.69,87.49 L649.85,86.50 L650.03,85.51 L650.21,84.49 L650.41,83.47 L650.63,82.44 L650.86,81.38 L651.11,80.32 L651.37,79.23 L651.66,78.13 L651.96,77.01 L652.29,75.86 L652.63,74.70 L653.00,73.52 L653.39,72.36 L653.80,71.25 L654.23,70.22 L654.68,69.30 L655.14,68.53 L655.62,67.93 L656.11,67.54 L656.62,67.40 L657.13,67.51 L657.66,67.87 L658.18,68.43 L658.71,69.18 L659.22,70.06 L659.72,71.07 L660.20,72.15 L660.65,73.29 L661.08,74.44 L661.47,75.59 L661.83,76.71 L662.16,77.81 L662.45,78.88 L662.73,79.94 L662.98,80.99 L663.21,82.01 L663.42,83.03 L663.63,84.03 L663.82,85.03 L664.01,86.02 L664.19,87.01 L664.38,87.99 L664.56,88.97 L664.75,89.95 L664.94,90.93 L665.13,91.90 L665.33,92.88 L665.52,93.85 L665.72,94.82 L665.92,95.79 L666.12,96.76 L666.32,97.73 L666.53,98.70 L666.73,99.67 L666.94,100.63 L667.15,101.60 L667.37,102.56 L667.58,103.52 L667.80,104.48 L668.01,105.45 L668.23,106.41 L668.46,107.37 L668.68,108.33 L668.91,109.28 L669.14,110.24 L669.37,111.20 L669.60,112.16 L669.83,113.11 L670.07,114.07 L670.31,115.03 L670.55,115.98 L670.80,116.94 L671.04,117.90 L671.29,118.85 L671.54,119.81 L671.79,120.76 L672.04,121.72 L672.30,122.67 L672.56,123.63 L672.82,124.59 L673.08,125.54 L673.35,126.50 L673.62,127.46 L673.89,128.42 L674.16,129.37 L674.43,130.33 L674.71,131.29 L674.99,132.25 L675.27,133.21 L675.55,134.17 L675.84,135.14 L676.13,136.10 L676.42,137.06 L676.71,138.03 L677.00,138.99 L677.30,139.96 L677.59,140.92 L677.89,141.89 L678.18,142.85 L678.48,143.82 L678.78,144.78 L679.07,145.75 L679.37,146.72 L679.66,147.68 L679.96,148.65 L680.25,149.62 L680.54,150.58 L680.83,151.55 L681.12,152.51 L681.40,153.48 L681.69,154.45 L681.97,155.41 L682.24,156.37 L682.52,157.34 L682.79,158.30 L683.06,159.26 L683.32,160.23 L683.58,161.19 L683.84,162.15 L684.09,163.11 L684.34,164.07 L684.58,165.02 L684.82,165.98 L685.05,166.93 L685.28,167.89 L685.50,168.84 L685.73,169.79 L685.95,170.75 L686.18,171.70 L686.41,172.64 L686.65,173.59 L686.90,174.54 L687.16,175.48 L687.42,176.42 L687.71,177.37 L688.00,178.31 L688.31,179.24 L688.64,180.18 L688.99,181.12 L689.37,182.05 L689.76,182.99 L690.18,183.91 L690.63,184.84 L691.09,185.76 L691.58,186.67 L692.10,187.57 L692.64,188.45 L693.20,189.32 L693.78,190.18 L694.39,191.02 L695.03,191.83 L695.68,192.62 L696.36,193.39 L697.06,194.13 L697.79,194.84 L698.53,195.52 L699.31,196.17 L700.10,196.79 L700.92,197.36 L701.75,197.90 L702.62,198.40 L703.50,198.86 L704.41,199.27 L705.34,199.63 L706.28,199.95 L707.24,200.22 L708.22,200.44 L709.21,200.62 L710.20,200.75 L711.20,200.83 L712.20,200.86 L713.20,200.85 L714.20,200.78 L715.20,200.67 L716.19,200.50 L717.16,200.29 L718.12,200.02 L719.07,199.70 L720.00,199.34 L720.91,198.92 L721.80,198.45 L722.66,197.93 L723.50,197.37 L724.33,196.77 L725.13,196.14 L725.92,195.48 L726.70,194.79 L727.46,194.08 L728.20,193.35 L728.94,192.60 L729.66,191.85 L730.37,191.08 L731.07,190.32 L731.77,189.56 L732.46,188.80 L733.14,188.05 L733.82,187.32 L734.50,186.60 L735.17,185.91 L735.85,185.24 L736.52,184.60 L737.20,184.00 L737.16,185.01 L737.12,186.02 L737.07,187.03 L737.02,188.03 L736.97,189.04 L736.92,190.04 L736.86,191.05 L736.80,192.05 L736.74,193.05 L736.68,194.05 L736.61,195.05 L736.54,196.05 L736.47,197.05 L736.39,198.04 L736.32,199.04 L736.24,200.04 L736.16,201.03 L736.07,202.03 L735.99,203.02 L735.90,204.01 L735.81,205.01 L735.72,206.00 L735.62,206.99 L735.52,207.98 L735.43,208.97 L735.33,209.96 L735.22,210.95 L735.12,211.94 L735.01,212.93 L734.90,213.92 L734.79,214.90 L734.68,215.89 L734.57,216.88 L734.45,217.87 L734.34,218.85 L734.22,219.84 L734.10,220.83 L733.98,221.81 L733.85,222.80 L733.73,223.79 L733.60,224.77 L733.48,225.76 L733.35,226.75 L733.22,227.73 L733.09,228.72 L732.95,229.70 L732.82,230.69 L732.69,231.68 L732.55,232.67 L732.41,233.65 L732.27,234.64 L732.13,235.63 L731.99,236.62 L731.85,237.60 L731.71,238.59 L731.57,239.58 L731.43,240.57 L731.28,241.56 L731.14,242.55 L730.99,243.54 L730.84,244.53 L730.70,245.52 L730.55,246.52 L730.40,247.51 L730.25,248.50 L730.09,249.49 L729.94,250.48 L729.78,251.48 L729.63,252.47 L729.47,253.46 L729.31,254.45 L729.14,255.44 L728.98,256.43 L728.81,257.42 L728.65,258.41 L728.48,259.40 L728.30,260.39 L728.13,261.38 L727.95,262.37 L727.77,263.36 L727.59,264.35 L727.40,265.33 L727.21,266.32 L727.02,267.30 L726.83,268.28 L726.63,269.27 L726.43,270.25 L726.23,271.23 L726.02,272.21 L725.81,273.18 L725.60,274.16 L725.38,275.14 L725.16,276.11 L724.94,277.08 L724.71,278.05 L724.48,279.02 L724.24,279.99 L724.00,280.96 L723.76,281.92 L723.51,282.88 L723.26,283.84 L723.00,284.80 L722.74,285.76 L722.47,286.71 L722.20,287.67 L721.92,288.62 L721.64,289.56 L721.36,290.51 L721.07,291.46 L720.77,292.40 L720.47,293.34 L720.17,294.28 L719.86,295.21 L719.54,296.15 L719.22,297.08 L718.90,298.01 L718.56,298.95 L718.23,299.87 L717.89,300.80 L717.54,301.73 L717.19,302.65 L716.83,303.58 L716.47,304.50 L716.10,305.42 L715.73,306.34 L715.35,307.26 L714.96,308.18 L714.57,309.10 L714.18,310.02 L713.78,310.94 L713.37,311.86 L712.95,312.77 L712.54,313.69 L712.11,314.60 L711.68,315.52 L711.24,316.43 L710.80,317.35 L710.35,318.26 L709.90,319.17 L709.43,320.08 L708.96,320.98 L708.49,321.88 L708.00,322.78 L707.51,323.67 L707.01,324.56 L706.50,325.44 L705.98,326.31 L705.45,327.18 L704.92,328.04 L704.37,328.90 L703.82,329.74 L703.25,330.58 L702.68,331.41 L702.09,332.22 L701.50,333.03 L700.89,333.83 L700.27,334.61 L699.65,335.39 L699.01,336.15 L698.35,336.90 L697.69,337.63 L697.01,338.36 L696.33,339.06 L695.63,339.76 L694.91,340.43 L694.18,341.10 L693.45,341.74 L692.69,342.38 L691.93,342.99 L691.16,343.60 L690.37,344.19 L689.57,344.77 L688.77,345.34 L687.95,345.89 L687.13,346.44 L686.30,346.97 L685.46,347.50 L684.61,348.02 L683.75,348.52 L682.89,349.02 L682.02,349.52 L681.15,350.00 L680.27,350.48 L679.39,350.95 L678.50,351.42 L677.61,351.89 L676.72,352.35 L675.82,352.80 L674.92,353.26 L674.02,353.71 L673.12,354.16 L672.21,354.61 L671.31,355.06 L670.40,355.50 L669.50,355.95 L668.60,356.40 L667.70,356.85 L666.80,357.31 L665.90,357.76 L665.01,358.22 L664.12,358.68 L663.23,359.15 L662.35,359.62 L661.47,360.10 L660.59,360.58 L659.73,361.08 L658.87,361.57 L658.01,362.08 L657.16,362.59 L656.32,363.12 L655.49,363.65 L654.67,364.19 L653.85,364.74 L653.05,365.31 L652.25,365.88 L651.47,366.47 L650.69,367.07 L649.93,367.69 L649.18,368.32 L648.44,368.96 L647.71,369.62 L647.00,370.29 L646.30,370.98 L645.61,371.68 L644.93,372.40 L644.27,373.13 L643.62,373.87 L642.98,374.62 L642.35,375.39 L641.73,376.17 L641.12,376.96 L640.52,377.76 L639.93,378.58 L639.36,379.40 L638.79,380.23 L638.23,381.07 L637.68,381.91 L637.14,382.77 L636.61,383.63 L636.08,384.50 L635.57,385.38 L635.06,386.26 L634.56,387.15 L634.06,388.05 L633.58,388.95 L633.10,389.85 L632.62,390.76 L632.16,391.67 L631.70,392.58 L631.24,393.49 L630.79,394.41 L630.35,395.33 L629.91,396.25 L629.48,397.17 L629.05,398.09 L628.62,399.01 L628.20,399.93 L627.78,400.85 L627.37,401.77 L626.96,402.68 L626.55,403.59 L626.15,404.50 L625.74,405.41 L625.34,406.31 L624.94,407.20 L624.55,408.10 L624.15,408.98 L623.76,409.86 L623.36,410.74 L622.97,411.61 L622.57,412.48 L622.17,413.34 L621.76,414.21 L621.34,415.07 L620.92,415.94 L620.48,416.80 L620.04,417.67 L619.58,418.54 L619.11,419.42 L618.62,420.30 L618.12,421.19 L617.60,422.08 L617.06,422.98 L616.50,423.89 L615.92,424.81 L615.31,425.72 L614.68,426.61 L614.01,427.45 L613.31,428.22 L612.58,428.91 L611.81,429.49 L610.99,429.94 L610.13,430.24 L609.23,430.37 L608.27,430.32 L607.29,430.11 L606.30,429.78 L605.33,429.34 L604.41,428.85 L603.54,428.30 L602.70,427.72 L601.91,427.10 L601.15,426.46 L600.41,425.79 L599.69,425.10 L598.98,424.40 L598.27,423.70 L597.57,423.00 L596.86,422.31 L596.13,421.64 L595.39,420.98 L594.63,420.34 L593.84,419.73 L593.03,419.14 L592.21,418.57 L591.38,418.01 L590.54,417.46 L589.70,416.92 L588.84,416.39 L587.99,415.87 L587.12,415.36 L586.26,414.86 L585.38,414.37 L584.50,413.88 L583.62,413.41 L582.73,412.94 L581.84,412.49 L580.94,412.05 L580.04,411.61 L579.13,411.18 L578.22,410.77 L577.31,410.36 L576.39,409.97 L575.47,409.58 L574.54,409.20 L573.61,408.84 L572.68,408.48 L571.74,408.13 L570.80,407.80 L569.86,407.47 L568.91,407.16 L567.97,406.85 L567.01,406.56 L566.06,406.27 L565.10,406.00 L564.14,405.74 L563.18,405.49 L562.22,405.24 L561.25,405.01 L560.28,404.79 L559.31,404.58 L558.34,404.38 L557.37,404.19 L556.39,404.00 L555.41,403.82 L554.43,403.66 L553.45,403.50 L552.47,403.34 L551.49,403.20 L550.50,403.06 L549.51,402.92 L548.53,402.79 L547.54,402.67 L546.55,402.55 L545.55,402.44 L544.56,402.34 L543.57,402.23 L542.57,402.13 L541.58,402.04 L540.58,401.94 L539.59,401.85 L538.59,401.77 L537.59,401.68 L536.59,401.60 L535.60,401.52 L534.60,401.43 L533.60,401.35 L532.60,401.28 L531.60,401.20 L530.60,401.12 L529.60,401.04 L528.60,400.96 L527.60,400.87 L526.60,400.79 L525.60,400.70 L524.60,400.62 L523.60,400.53 L522.61,400.43 L521.61,400.34 L520.61,400.24 L519.61,400.15 L518.62,400.05 L517.62,399.95 L516.62,399.84 L515.63,399.74 L514.63,399.63 L513.64,399.52 L512.64,399.42 L511.64,399.31 L510.65,399.19 L509.65,399.08 L508.66,398.97 L507.67,398.85 L506.67,398.74 L505.68,398.62 L504.68,398.50 L503.69,398.39 L502.70,398.27 L501.70,398.15 L500.71,398.03 L499.72,397.91 L498.72,397.79 L497.73,397.66 L496.74,397.54 L495.75,397.42 L494.75,397.30 L493.76,397.18 L492.77,397.05 L491.78,396.93 L490.78,396.81 L489.79,396.69 L488.80,396.57 L487.81,396.45 L486.82,396.33 L485.82,396.21 L484.83,396.09 L483.84,395.97 L482.85,395.85 L481.86,395.73 L480.86,395.62 L479.87,395.50 L478.88,395.38 L477.89,395.27 L476.90,395.16 L475.91,395.05 L474.91,394.94 L473.92,394.83 L472.93,394.72 L471.94,394.61 L470.95,394.51 L469.95,394.41 L468.96,394.30 L467.97,394.21 L466.98,394.11 L465.98,394.01 L464.99,393.92 L464.00,393.83 L463.01,393.74 L462.01,393.65 L461.02,393.56 L460.03,393.48 L459.03,393.40 L458.04,393.32 L457.05,393.24 L456.05,393.17 L455.06,393.09 L454.06,393.02 L453.07,392.96 L452.08,392.89 L451.08,392.82 L450.09,392.76 L449.09,392.70 L448.10,392.64 L447.10,392.58 L446.11,392.53 L445.11,392.47 L444.12,392.42 L443.12,392.37 L442.13,392.32 L441.13,392.27 L440.13,392.22 L439.14,392.17 L438.14,392.13 L437.15,392.08 L436.15,392.04 L435.15,391.99 L434.16,391.95 L433.16,391.91 L432.16,391.87 L431.17,391.83 L430.17,391.79 L429.17,391.75 L428.18,391.71 L427.18,391.67 L426.18,391.64 L425.18,391.60 L424.19,391.56 L423.19,391.52 L422.19,391.49 L421.19,391.45 L420.20,391.41 L419.20,391.37 L418.20,391.34 L417.20,391.30 L416.20,391.26 L415.21,391.22 L414.21,391.18 L413.21,391.14 L412.21,391.10 L411.21,391.06 L410.21,391.02 L409.22,390.98 L408.22,390.94 L407.22,390.90 L406.22,390.85 L405.22,390.81 L404.22,390.76 L403.22,390.71 L402.22,390.66 L401.22,390.61 L400.23,390.56 L399.23,390.51 L398.23,390.46 L397.23,390.40 L396.23,390.35 L395.23,390.29 L394.23,390.23 L393.23,390.17 L392.23,390.10 L391.23,390.04 L390.23,389.97 L389.23,389.90 L388.23,389.83 L387.23,389.76 L386.24,389.69 L385.24,389.61 L384.24,389.53 L383.24,389.46 L382.24,389.38 L381.24,389.30 L380.24,389.22 L379.24,389.14 L378.24,389.06 L377.24,388.98 L376.24,388.90 L375.24,388.83 L374.24,388.75 L373.24,388.67 L372.24,388.60 L371.24,388.53 L370.24,388.46 L369.24,388.39 L368.24,388.32 L367.25,388.26 L366.25,388.19 L365.25,388.13 L364.25,388.08 L363.25,388.02 L362.25,387.98 L361.25,387.93 L360.25,387.89 L359.26,387.85 L358.26,387.81 L357.26,387.78 L356.26,387.76 L355.26,387.74 L354.27,387.72 L353.27,387.71 L352.27,387.70 L351.27,387.69 L350.28,387.69 L349.28,387.70 L348.29,387.70 L347.29,387.72 L346.29,387.73 L345.30,387.76 L344.30,387.78 L343.31,387.81 L342.31,387.85 L341.32,387.89 L340.33,387.93 L339.33,387.98 L338.34,388.04 L337.35,388.09 L336.35,388.16 L335.36,388.23 L334.37,388.30 L333.38,388.38 L332.39,388.46 L331.40,388.55 L330.41,388.64 L329.42,388.73 L328.43,388.84 L327.44,388.94 L326.46,389.06 L325.47,389.17 L324.48,389.30 L323.50,389.42 L322.51,389.55 L321.53,389.69 L320.54,389.84 L319.56,389.98 L318.58,390.14 L317.60,390.29 L316.61,390.46 L315.63,390.63 L314.65,390.80 L313.68,390.98 L312.70,391.17 L311.72,391.36 L310.74,391.55 L309.77,391.75 L308.79,391.96 L307.82,392.17 L306.84,392.39 L305.87,392.62 L304.90,392.85 L303.93,393.08 L302.96,393.32 L301.99,393.57 L301.02,393.82 L300.05,394.08 L299.08,394.34 L298.12,394.61 L297.15,394.89 L296.19,395.17 L295.23,395.46 L294.26,395.75 L293.30,396.05 L292.34,396.35 L291.39,396.67 L290.43,396.98 L289.47,397.31 L288.52,397.64 L287.57,397.97 L286.62,398.31 L285.67,398.66 L284.73,399.01 L283.78,399.37 L282.84,399.74 L281.90,400.11 L280.96,400.49 L280.03,400.88 L279.10,401.27 L278.17,401.66 L277.24,402.07 L276.32,402.48 L275.40,402.89 L274.48,403.32 L273.57,403.74 L272.66,404.18 L271.75,404.62 L270.85,405.07 L269.95,405.52 L269.05,405.98 L268.16,406.45 L267.27,406.92 L266.39,407.40 L265.51,407.89 L264.63,408.38 L263.76,408.88 L262.90,409.39 L262.03,409.90 L261.18,410.42 L260.32,410.95 L259.48,411.48 L258.63,412.02 L257.79,412.56 L256.96,413.12 L256.13,413.67 L255.31,414.24 L254.49,414.81 L253.68,415.39 L252.88,415.98 L252.08,416.57 L251.28,417.17 L250.49,417.78 L249.71,418.39 L248.93,419.01 L248.16,419.64 L247.40,420.27 L246.64,420.91 L245.89,421.56 L245.15,422.22 L244.41,422.88 L243.68,423.55 L242.96,424.22 L242.24,424.90 L241.53,425.59 L240.82,426.28 L240.12,426.99 L239.43,427.69 L238.75,428.41 L238.07,429.13 L237.39,429.85 L236.73,430.58 L236.07,431.32 L235.41,432.06 L234.76,432.81 L234.12,433.57 L233.49,434.33 L232.86,435.09 L232.23,435.86 L231.61,436.64 L231.00,437.42 L230.39,438.20 L229.79,438.99 L229.20,439.79 L228.61,440.59 L228.03,441.40 L227.45,442.20 L226.88,443.02 L226.31,443.84 L225.75,444.66 L225.20,445.49 L224.65,446.32 L224.10,447.15 L223.57,447.99 L223.03,448.84 L222.50,449.68 L221.98,450.53 L221.47,451.39 L220.95,452.25 L220.45,453.11 L219.95,453.97 L219.45,454.84 L218.96,455.71 L218.47,456.59 L217.99,457.46 L217.52,458.35 L217.05,459.23 L216.58,460.11 L216.12,461.00 L215.67,461.89 L215.22,462.79 L214.77,463.68 L214.33,464.58 L213.89,465.48 L213.46,466.39 L213.03,467.29 L212.61,468.20 L212.19,469.11 L211.78,470.02 L211.37,470.93 L210.96,471.84 L210.56,472.76 L210.16,473.67 L209.76,474.59 L209.37,475.51 L208.97,476.43 L208.58,477.35 L208.19,478.27 L207.80,479.19 L207.42,480.11 L207.03,481.03 L206.64,481.96 L206.26,482.88 L205.87,483.80 L205.49,484.72 L205.10,485.64 L204.71,486.57 L204.32,487.49 L203.93,488.41 L203.54,489.33 L203.15,490.25 L202.75,491.16 L202.35,492.08 L201.95,492.99 L201.55,493.91 L201.14,494.82 L200.73,495.73 L200.32,496.64 L199.90,497.55 L199.48,498.45 L199.05,499.36 L198.62,500.26 L198.18,501.16 L197.74,502.05 L197.29,502.95 L196.84,503.84 L196.38,504.73 L195.91,505.61 L195.44,506.50 L194.96,507.38 L194.47,508.25 L193.96,509.12 L193.45,509.98 L192.92,510.83 L192.37,511.68 L191.80,512.51 L191.21,513.33 L190.60,514.13 L189.96,514.92 L189.29,515.69 L188.60,516.45 L187.87,517.19 L187.11,517.90 L186.31,518.58 L185.49,519.17 L184.64,519.64 L183.78,519.91 L182.90,519.97 L182.02,519.78 L181.15,519.40 L180.28,518.85 L179.44,518.15 L178.63,517.36 L177.86,516.49 L177.14,515.59 L176.47,514.68 L175.87,513.78 L175.33,512.92 L174.84,512.07 L174.39,511.24 L173.97,510.41 L173.56,509.59 L173.17,508.76 L172.77,507.91 L172.38,507.06 L171.98,506.20 L171.58,505.33 L171.19,504.45 L170.79,503.57 L170.38,502.67 L169.98,501.77 L169.58,500.86 L169.17,499.95 L168.77,499.03 L168.36,498.11 L167.95,497.19 L167.55,496.26 L167.14,495.33 L166.72,494.40 L166.31,493.47 L165.90,492.53 L165.48,491.60 L165.07,490.67 L164.65,489.74 L164.23,488.81 L163.81,487.88 L163.39,486.96 L162.97,486.04 L162.55,485.13 L162.13,484.22 L161.70,483.31 L161.28,482.41 L160.85,481.51 L160.42,480.61 L159.99,479.72 L159.55,478.83 L159.12,477.94 L158.68,477.05 L158.25,476.17 L157.81,475.28 L157.36,474.40 L156.92,473.52 L156.47,472.64 L156.02,471.77 L155.57,470.89 L155.12,470.02 L154.66,469.14 L154.21,468.27 L153.74,467.39 L153.28,466.52 L152.81,465.64 L152.34,464.77 L151.87,463.89 L151.40,463.02 L150.92,462.14 L150.44,461.27 L149.95,460.39 L149.46,459.52 L148.97,458.64 L148.47,457.77 L147.97,456.90 L147.47,456.03 L146.96,455.16 L146.44,454.30 L145.93,453.43 L145.40,452.57 L144.88,451.71 L144.35,450.85 L143.81,450.00 L143.27,449.15 L142.72,448.30 L142.17,447.46 L141.61,446.62 L141.05,445.79 L140.48,444.96 L139.91,444.13 L139.33,443.31 L138.74,442.49 L138.15,441.68 L137.55,440.87 L136.95,440.07 L136.33,439.28 L135.72,438.49 L135.09,437.70 L134.46,436.93 L133.82,436.15 L133.18,435.39 L132.53,434.63 L131.87,433.88 L131.20,433.14 L130.53,432.41 L129.84,431.68 L129.15,430.96 L128.46,430.25 L127.75,429.55 L127.04,428.86 L126.31,428.17 L125.58,427.49 L124.84,426.83 L124.10,426.17 L123.34,425.53 L122.58,424.89 L121.80,424.27 L121.02,423.66 L120.23,423.06 L119.43,422.48 L118.62,421.91 L117.80,421.36 L116.97,420.83 L116.13,420.31 L115.28,419.81 L114.42,419.32 L113.56,418.86 L112.68,418.42 L111.79,417.99 L110.90,417.59 L109.99,417.21 L109.07,416.86 L108.15,416.52 L107.21,416.21 L106.26,415.93 L105.31,415.67 L104.34,415.44 L103.36,415.23 L102.37,415.05 L101.37,414.90 L100.36,414.78 L99.33,414.69 L98.30,414.63 L97.26,414.60 L96.20,414.60" stroke="#3b3b3b"/>
</g>
<g stroke="#000" stroke-width="2" fill="none">
<path d="M94.6,25.0 H781.0 V581.8" stroke="#222"/><path d="M95.6,24.0 V581.8 H782.0" stroke="#0a0a0a" stroke-linecap="square"/>
<line x1="85.6" y1="25.00" x2="95.6" y2="25.00"/><line x1="90.6" y1="52.84" x2="95.6" y2="52.84"/><line x1="85.6" y1="80.68" x2="95.6" y2="80.68"/><line x1="90.6" y1="108.52" x2="95.6" y2="108.52"/><line x1="85.6" y1="136.36" x2="95.6" y2="136.36"/><line x1="90.6" y1="164.20" x2="95.6" y2="164.20"/><line x1="85.6" y1="192.04" x2="95.6" y2="192.04"/><line x1="90.6" y1="219.88" x2="95.6" y2="219.88"/><line x1="85.6" y1="247.72" x2="95.6" y2="247.72"/><line x1="90.6" y1="275.56" x2="95.6" y2="275.56"/><line x1="85.6" y1="303.40" x2="95.6" y2="303.40"/><line x1="90.6" y1="331.24" x2="95.6" y2="331.24"/><line x1="85.6" y1="359.08" x2="95.6" y2="359.08"/><line x1="90.6" y1="386.92" x2="95.6" y2="386.92"/><line x1="85.6" y1="414.76" x2="95.6" y2="414.76"/><line x1="90.6" y1="442.60" x2="95.6" y2="442.60"/><line x1="85.6" y1="470.44" x2="95.6" y2="470.44"/><line x1="90.6" y1="498.28" x2="95.6" y2="498.28"/><line x1="85.6" y1="526.12" x2="95.6" y2="526.12"/><line x1="90.6" y1="553.96" x2="95.6" y2="553.96"/><line x1="85.6" y1="581.80" x2="95.6" y2="581.80"/><line x1="95.60" y1="581.8" x2="95.60" y2="591.8"/><line x1="138.44" y1="581.8" x2="138.44" y2="586.8"/><line x1="181.27" y1="581.8" x2="181.27" y2="591.8"/><line x1="224.11" y1="581.8" x2="224.11" y2="586.8"/><line x1="266.95" y1="581.8" x2="266.95" y2="591.8"/><line x1="309.79" y1="581.8" x2="309.79" y2="586.8"/><line x1="352.62" y1="581.8" x2="352.62" y2="591.8"/><line x1="395.46" y1="581.8" x2="395.46" y2="586.8"/><line x1="438.30" y1="581.8" x2="438.30" y2="591.8"/><line x1="481.14" y1="581.8" x2="481.14" y2="586.8"/><line x1="523.97" y1="581.8" x2="523.97" y2="591.8"/><line x1="566.81" y1="581.8" x2="566.81" y2="586.8"/><line x1="609.65" y1="581.8" x2="609.65" y2="591.8"/><line x1="652.49" y1="581.8" x2="652.49" y2="586.8"/><line x1="695.32" y1="581.8" x2="695.32" y2="591.8"/><line x1="738.16" y1="581.8" x2="738.16" y2="586.8"/><line x1="781.00" y1="581.8" x2="781.00" y2="591.8"/>
</g>
<g font-size="23">
<text x="77.9" y="32.10" text-anchor="end">9</text><text x="77.9" y="87.78" text-anchor="end">7.5</text><text x="77.9" y="143.46" text-anchor="end">6</text><text x="77.9" y="199.14" text-anchor="end">4.5</text><text x="77.9" y="254.82" text-anchor="end">3</text><text x="77.9" y="310.50" text-anchor="end">1.5</text><text x="77.9" y="366.18" text-anchor="end">0</text><text x="77.9" y="421.86" text-anchor="end">-1.5</text><text x="77.9" y="477.54" text-anchor="end">-3</text><text x="77.9" y="533.22" text-anchor="end">-4.5</text><text x="77.9" y="588.90" text-anchor="end">-6</text><text x="95.60" y="619.7" text-anchor="middle">-0.4</text><text x="181.27" y="619.7" text-anchor="middle">-0.2</text><text x="266.95" y="619.7" text-anchor="middle">0</text><text x="352.62" y="619.7" text-anchor="middle">0.2</text><text x="438.30" y="619.7" text-anchor="middle">0.4</text><text x="523.97" y="619.7" text-anchor="middle">0.6</text><text x="609.65" y="619.7" text-anchor="middle">0.8</text><text x="695.32" y="619.7" text-anchor="middle">1</text><text x="781.00" y="619.7" text-anchor="middle">1.2</text>
</g>
<text x="296.6" y="660.7" font-size="28">Potential vs E<tspan font-size="19.5" dy="7">Ag/AgCl </tspan><tspan dy="-7">(V)</tspan></text>
<text transform="translate(29.9,366.5) rotate(-90)" font-size="28">Current (mA)</text>
<g stroke-width="4.0" stroke-linecap="round">
<line x1="549" y1="517.1" x2="611" y2="517.1" stroke="#f03a3a"/>
<line x1="549" y1="551.4" x2="611" y2="551.4" stroke="#3b3b3b"/>
</g>
<text x="617.8" y="526.3" font-size="28.5">Pure Pbp</text>
<text x="617.8" y="560.6" font-size="28.5">Pbp@NiO<tspan font-size="19.5" dy="8.2">0.2</tspan></text>
<text x="223.0" y="332.9" font-size="28.5">I<tspan font-size="19.5" dy="7.8">ox</tspan></text>
<text x="669.6" y="77.8" font-size="28.5">II<tspan font-size="19.5" dy="8">ox</tspan></text>
<text x="203.8" y="527.2" font-size="28.5">I<tspan font-size="18.8" dy="7.4">red</tspan></text>
<text x="608.6" y="464.5" font-size="28.5">II<tspan font-size="18.8" dy="7.9">red</tspan></text>
</svg>
</body></html>
